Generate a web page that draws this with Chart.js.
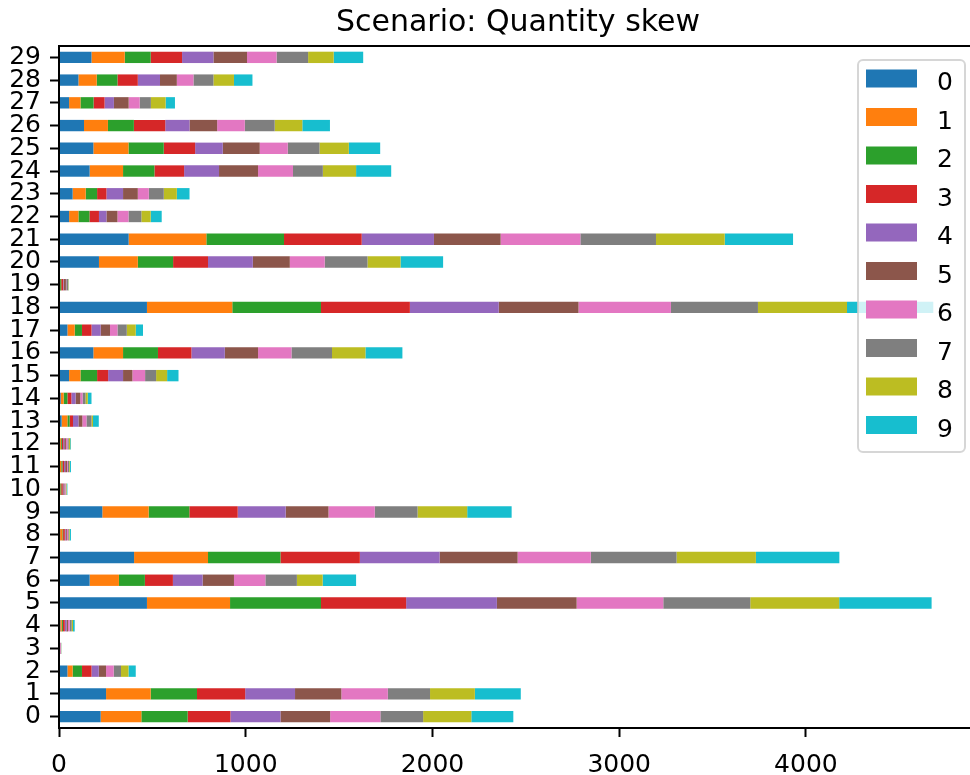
<!DOCTYPE html>
<html>
<head>
<meta charset="utf-8">
<title>Scenario: Quantity skew</title>
<script src="https://cdn.jsdelivr.net/npm/chart.js@4.4.1/dist/chart.umd.min.js"></script>
<style>
  html, body { margin: 0; padding: 0; background: #fff; overflow: hidden; }
  #wrap { width: 985px; height: 775px; }
</style>
</head>
<body>
<div id="wrap"><canvas id="c" width="985" height="775"></canvas></div>
<script>
// Clients 0..29 on the vertical axis
const clients = Array.from({length: 30}, (_, i) => String(i));
// Class labels (one stacked segment per class)
const classLabels = ['0', '1', '2', '3', '4', '5', '6', '7', '8', '9'];
const classColors = ['#1f77b4', '#ff7f0e', '#2ca02c', '#d62728', '#9467bd',
                     '#8c564b', '#e377c2', '#7f7f7f', '#bcbd22', '#17becf'];

// Sample counts per class, indexed by client 0..29
const class0 = [223,252,45,1,7,471,164,402,6,232,3,5,4,14,9,54,184,45,471,2,214,373,54,73,164,184,134,54,104,174];
const class1 = [218,239,28,1,8,445,157,396,12,248,4,7,6,31,16,61,159,39,457,4,208,416,50,70,179,188,128,61,98,178];
const class2 = [248,248,50,1,6,487,139,388,4,218,5,6,5,12,20,89,187,39,475,6,189,416,59,61,168,189,139,70,111,139];
const class3 = [229,258,51,1,10,456,150,425,9,259,8,9,7,18,21,59,179,51,476,10,187,416,51,50,159,168,168,59,109,168];
const class4 = [268,267,39,1,9,486,159,427,5,257,3,6,6,29,23,80,179,49,476,3,240,387,40,89,187,148,130,50,119,168];
const class5 = [266,248,39,1,8,427,168,418,6,229,6,10,9,21,25,50,178,50,427,12,198,357,59,79,209,198,148,79,90,180];
const class6 = [269,249,41,4,9,464,168,392,7,248,6,5,8,22,12,68,179,40,495,2,187,427,59,59,187,150,148,59,89,158];
const class7 = [229,226,39,1,11,466,169,459,4,229,3,6,7,27,16,59,217,50,466,10,229,405,69,80,160,170,160,60,107,169];
const class8 = [258,240,40,1,7,476,138,425,4,266,3,4,8,8,12,59,179,48,477,2,177,368,50,70,178,157,148,79,110,137];
const class9 = [225,246,39,1,9,495,179,447,7,238,4,6,4,31,20,61,198,39,462,1,228,366,59,68,188,168,148,50,99,158];

const classCounts = [class0, class1, class2, class3, class4, class5, class6, class7, class8, class9];
const xTicks = [0, 1000, 2000, 3000, 4000];

// Upper x limit: largest stacked total plus a 5% margin
const totals = clients.map((_, i) => classCounts.reduce((s, arr) => s + arr[i], 0));
const xMax = Math.max(...totals) * 1.05;

const FONT = "'DejaVu Sans', 'Liberation Sans', sans-serif";

// Axes frame, title and the class legend
const framePlugin = {
  id: 'frame',
  afterDatasetsDraw(chart) {
    const {ctx, chartArea: a} = chart;
    ctx.save();
    ctx.strokeStyle = '#000';
    ctx.lineWidth = 2;
    ctx.strokeRect(a.left, a.top, a.right - a.left, a.bottom - a.top);
    ctx.restore();
  },
  afterDraw(chart) {
    const {ctx, chartArea: a} = chart;
    ctx.save();
    // title centred over the axes
    ctx.fillStyle = '#000';
    ctx.font = '30px ' + FONT;
    ctx.textAlign = 'center';
    ctx.textBaseline = 'alphabetic';
    ctx.fillText('Scenario: Quantity skew', (a.left + a.right) / 2, 31);

    // legend box in the upper right corner of the axes
    const bx = 858, by = 60, bw = 107, bh = 392, r = 5;
    ctx.globalAlpha = 0.8;
    ctx.beginPath();
    ctx.moveTo(bx + r, by);
    ctx.arcTo(bx + bw, by, bx + bw, by + bh, r);
    ctx.arcTo(bx + bw, by + bh, bx, by + bh, r);
    ctx.arcTo(bx, by + bh, bx, by, r);
    ctx.arcTo(bx, by, bx + bw, by, r);
    ctx.closePath();
    ctx.fillStyle = '#fff';
    ctx.fill();
    ctx.strokeStyle = '#cccccc';
    ctx.lineWidth = 2;
    ctx.stroke();
    ctx.globalAlpha = 1;

    ctx.font = '25px ' + FONT;
    ctx.textAlign = 'left';
    ctx.textBaseline = 'alphabetic';
    chart.data.datasets.forEach((ds, i) => {
      const y = 69.5 + i * 38.5;
      ctx.fillStyle = ds.backgroundColor;
      ctx.fillRect(866, y, 51, 18);
      ctx.fillStyle = '#000';
      ctx.fillText(ds.label, 937, y + 20.5);
    });
    ctx.restore();
  }
};

new Chart(document.getElementById('c'), {
  type: 'bar',
  data: {
    labels: clients,
    datasets: classLabels.map((lab, k) => ({
      label: lab,
      data: classCounts[k],
      backgroundColor: classColors[k],
      borderWidth: 0,
      categoryPercentage: 1.0,
      barPercentage: 0.5
    }))
  },
  options: {
    indexAxis: 'y',
    responsive: false,
    animation: false,
    devicePixelRatio: 1,
    layout: { padding: { top: 46, right: 8, bottom: 0, left: 0 } },
    plugins: {
      legend: { display: false },
      title: { display: false },
      tooltip: { enabled: false }
    },
    scales: {
      x: {
        type: 'linear',
        stacked: true,
        min: 0,
        max: xMax,
        afterFit(scale) { scale.height = 47; },
        afterBuildTicks(scale) { scale.ticks = xTicks.map(v => ({value: v})); },
        border: { display: false },
        grid: { drawOnChartArea: false, drawTicks: true, tickLength: 9, tickWidth: 2, tickColor: '#000' },
        ticks: {
          color: '#000',
          font: { family: FONT, size: 25 },
          padding: 13,
          maxRotation: 0,
          callback: v => String(v)
        }
      },
      y: {
        type: 'category',
        stacked: true,
        reverse: true,
        afterFit(scale) { scale.width = 59; },
        border: { display: false },
        grid: { offset: false, drawOnChartArea: false, drawTicks: true, tickLength: 9, tickWidth: 2, tickColor: '#000' },
        ticks: {
          color: '#000',
          font: { family: FONT, size: 25 },
          padding: 9,
          autoSkip: false
        }
      }
    }
  },
  plugins: [framePlugin]
});
</script>
</body>
</html>
